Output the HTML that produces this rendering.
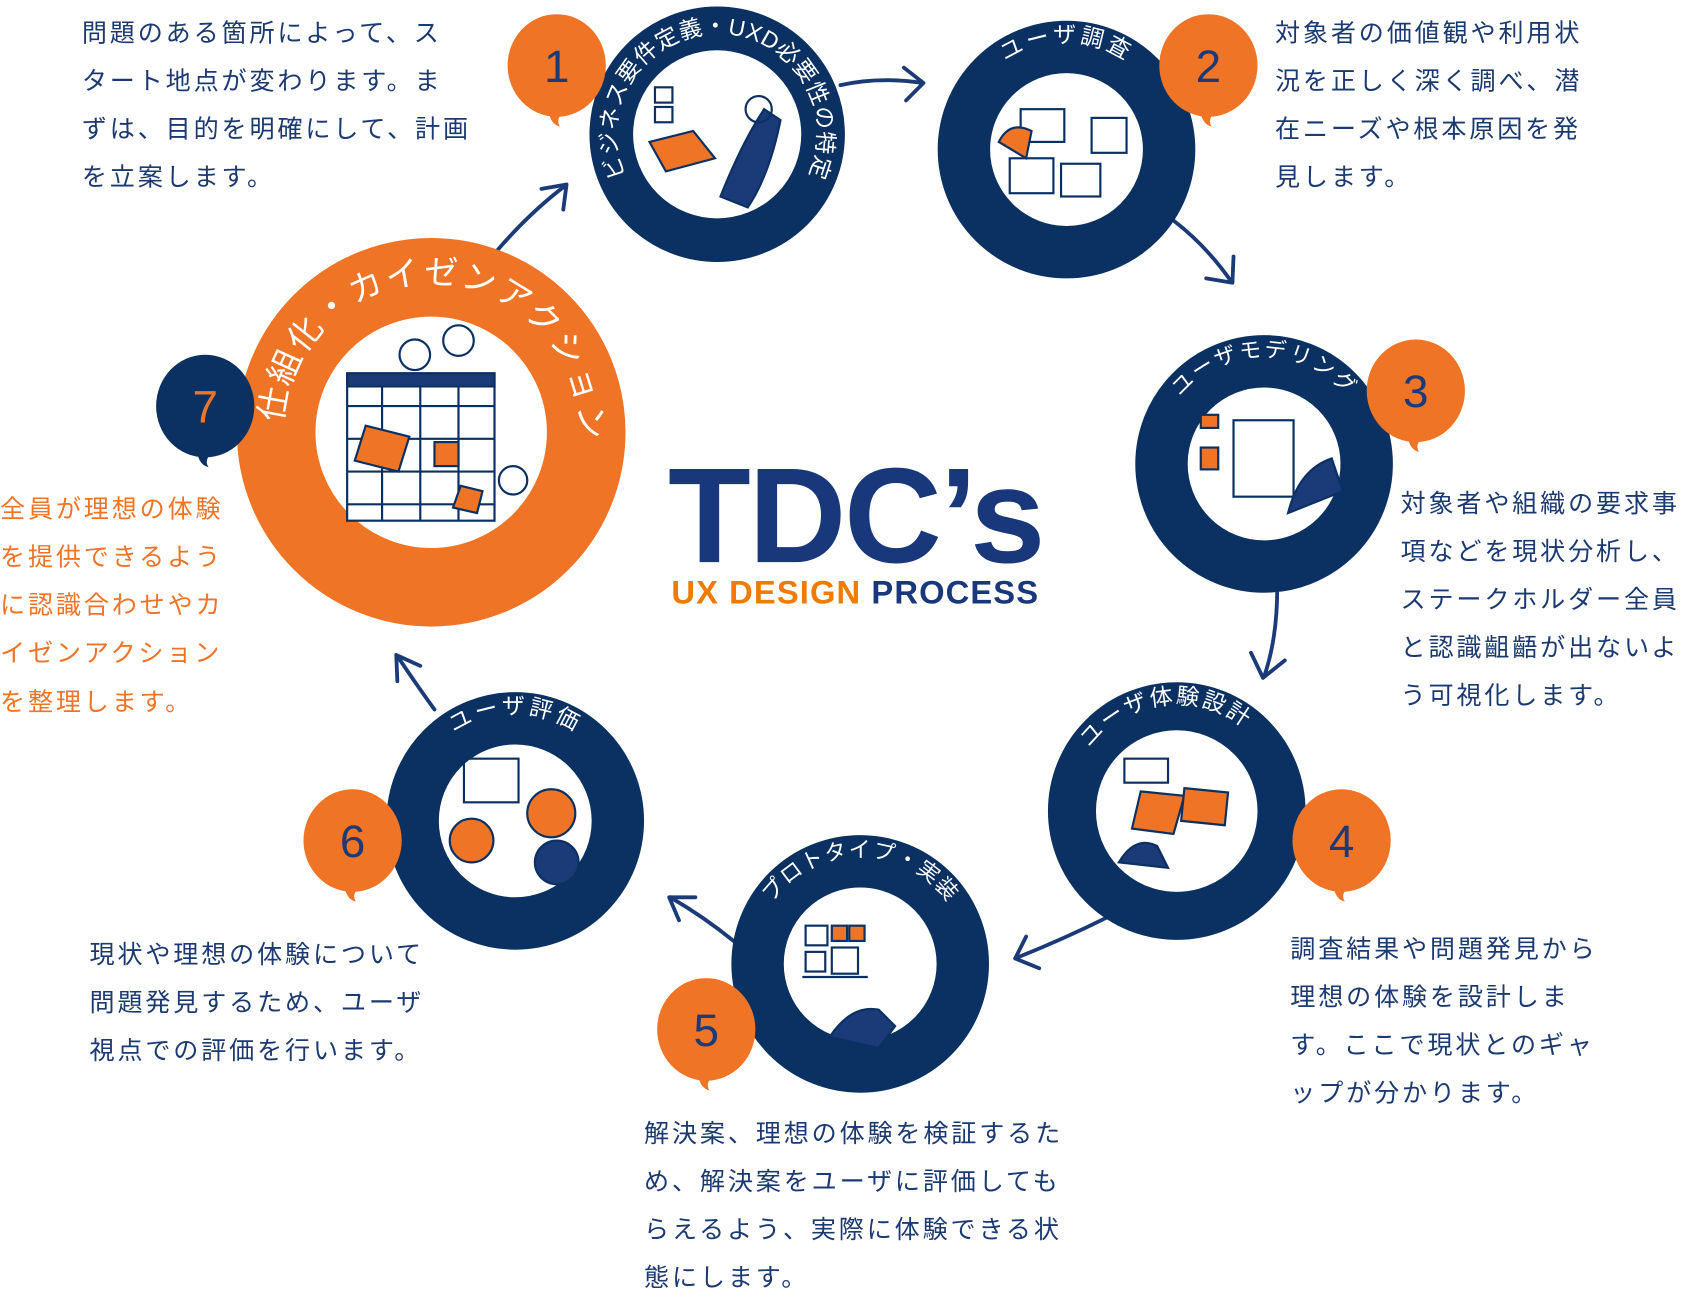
<!DOCTYPE html>
<html><head><meta charset="utf-8"><style>
html,body{margin:0;padding:0;background:#fff;}
svg{display:block;}
.t{font-family:"Liberation Sans","Noto Sans CJK JP",sans-serif;font-size:23px;letter-spacing:2.6px;fill:#1c3a72;}
.o{fill:#f07426;}
.r{font-family:"Liberation Sans","Noto Sans CJK JP",sans-serif;fill:#fff;}
.n{font-family:"Liberation Sans","Noto Sans CJK JP",sans-serif;font-size:42px;}
.ar{fill:none;stroke:#1b3a78;stroke-width:3.5;stroke-linecap:round;stroke-linejoin:round;}
.il{fill:none;stroke:#0b3163;stroke-width:2;}
</style></head><body>
<svg width="1692" height="1293" viewBox="0 0 1550 1184.5" xmlns="http://www.w3.org/2000/svg">
<defs>
<path id="p1" d="M657,215 A92,92 0 1 1 657,31 A92,92 0 1 1 657,215"/>
<path id="p2" d="M977,235 A98,98 0 1 1 977,39 A98,98 0 1 1 977,235"/>
<path id="p3" d="M1158,523 A98,98 0 1 1 1158,327 A98,98 0 1 1 1158,523"/>
<path id="p4" d="M1078,841 A98,98 0 1 1 1078,645 A98,98 0 1 1 1078,841"/>
<path id="p5" d="M788,981 A98,98 0 1 1 788,785 A98,98 0 1 1 788,981"/>
<path id="p6" d="M472,850 A98,98 0 1 1 472,654 A98,98 0 1 1 472,850"/>
<path id="p7" d="M395,532 A136,136 0 1 1 395,260 A136,136 0 1 1 395,532"/>
</defs>

<path class="ar" d="M770,78 Q805,70 845,76"/><path class="ar" d="M828,62 L846,76 L830,92"/>
<path class="ar" d="M1075,202 Q1105,225 1128,258"/><path class="ar" d="M1105,255 L1129,259 L1130,235"/>
<path class="ar" d="M1170,540 Q1170,585 1158,620"/><path class="ar" d="M1146,598 L1157,621 L1177,605"/>
<path class="ar" d="M1015,840 Q975,860 930,878"/><path class="ar" d="M940,858 L930,878 L952,887"/>
<path class="ar" d="M672,862 Q645,840 614,822"/><path class="ar" d="M637,822 L613,822 L622,843"/>
<path class="ar" d="M398,650 Q380,625 364,601"/><path class="ar" d="M364,624 L363,600 L385,610"/>
<path class="ar" d="M455,230 Q485,195 518,170"/><path class="ar" d="M496,173 L519,169 L516,192"/>

<circle cx="657" cy="123" r="97" fill="none" stroke="#0a3162" stroke-width="40"/>
<circle cx="977" cy="137" r="94" fill="none" stroke="#0a3162" stroke-width="48"/>
<circle cx="1158" cy="425" r="94" fill="none" stroke="#0a3162" stroke-width="48"/>
<circle cx="1078" cy="743" r="96" fill="none" stroke="#0a3162" stroke-width="44"/>
<circle cx="788" cy="883" r="94" fill="none" stroke="#0a3162" stroke-width="48"/>
<circle cx="472" cy="752" r="94" fill="none" stroke="#0a3162" stroke-width="48"/>
<circle cx="395" cy="396" r="142" fill="none" stroke="#f07426" stroke-width="72"/>

<text class="r" font-size="21" letter-spacing="0.5"><textPath href="#p1" startOffset="50%" text-anchor="middle">ビジネス要件定義・UXD必要性の特定</textPath></text>
<text class="r" font-size="21" letter-spacing="3"><textPath href="#p2" startOffset="50%" text-anchor="middle">ユーザ調査</textPath></text>
<text class="r" font-size="20" letter-spacing="2"><textPath href="#p3" startOffset="50%" text-anchor="middle">ユーザモデリング</textPath></text>
<text class="r" font-size="21" letter-spacing="2"><textPath href="#p4" startOffset="48%" text-anchor="middle">ユーザ体験設計</textPath></text>
<text class="r" font-size="20" letter-spacing="1"><textPath href="#p5" startOffset="50%" text-anchor="middle">プロトタイプ・実装</textPath></text>
<text class="r" font-size="21" letter-spacing="3"><textPath href="#p6" startOffset="50%" text-anchor="middle">ユーザ評価</textPath></text>
<text class="r" font-size="31" letter-spacing="2"><textPath href="#p7" startOffset="51%" text-anchor="middle">仕組化・カイゼンアクション</textPath></text>

<g class="il">
<rect x="600" y="80" width="16" height="14"/><rect x="600" y="98" width="16" height="14"/>
<path d="M595,130 l40,-10 l20,25 l-45,12z" fill="#f07426"/>
<path d="M660,180 q20,-50 40,-80 l15,10 q-10,50 -30,80z" fill="#1b3a78"/>
<circle cx="695" cy="100" r="12"/>
<rect x="935" y="100" width="40" height="30"/><rect x="1000" y="108" width="32" height="32"/><rect x="925" y="145" width="40" height="32"/><rect x="972" y="150" width="36" height="30"/>
<path d="M915,130 q10,-20 30,-10 l-5,25z" fill="#f07426"/>
<rect x="1130" y="385" width="55" height="70"/><rect x="1100" y="380" width="16" height="12" fill="#f07426"/><rect x="1100" y="410" width="16" height="20" fill="#f07426"/>
<path d="M1180,470 q10,-40 40,-50 l10,30 z" fill="#1b3a78"/>
<rect x="1030" y="695" width="40" height="22"/><path d="M1045,725 l40,4 l-10,35 l-38,-5z" fill="#f07426"/><path d="M1085,722 l40,4 l-3,30 l-40,-4z" fill="#f07426"/>
<path d="M1025,790 q15,-25 35,-15 l10,20z" fill="#1b3a78"/>
<rect x="738" y="848" width="20" height="18" fill="#fff"/><rect x="762" y="848" width="14" height="14" fill="#f07426"/><rect x="778" y="848" width="14" height="14" fill="#f07426"/>
<rect x="738" y="872" width="18" height="18"/><rect x="762" y="868" width="24" height="24"/><path d="M735,895 h60"/>
<path d="M760,950 q20,-30 45,-25 l15,15 l-15,20z" fill="#1b3a78"/>
<rect x="425" y="695" width="50" height="40"/><circle cx="432" cy="770" r="20" fill="#f07426"/><circle cx="505" cy="745" r="22" fill="#f07426"/><circle cx="510" cy="790" r="20" fill="#1b3a78"/>
<rect x="318" y="342" width="135" height="135" fill="#fff"/><path d="M318,372 h135 M318,402 h135 M318,432 h135 M318,462 h135 M350,342 v135 M385,342 v135 M420,342 v135"/>
<rect x="318" y="342" width="135" height="12" fill="#1b3a78"/>
<path d="M335,390 l40,10 l-10,32 l-40,-10z" fill="#f07426"/><rect x="398" y="405" width="22" height="22" fill="#f07426"/><path d="M422,445 l20,5 l-5,20 l-22,-5z" fill="#f07426"/>
<circle cx="380" cy="325" r="14"/><circle cx="420" cy="312" r="14" fill="#fff"/><circle cx="470" cy="440" r="13"/>
</g>

<g fill="#f07426">
<ellipse cx="510" cy="60" rx="45" ry="47"/><path d="M503,104 q2,10 10,12 q-4,-6 2,-12z"/>
<ellipse cx="1107" cy="60" rx="45" ry="47"/><path d="M1100,104 q2,10 10,12 q-4,-6 2,-12z"/>
<ellipse cx="1297" cy="358" rx="45" ry="47"/><path d="M1290,402 q2,10 10,12 q-4,-6 2,-12z"/>
<ellipse cx="1229" cy="770" rx="45" ry="47"/><path d="M1222,814 q2,10 10,12 q-4,-6 2,-12z"/>
<ellipse cx="647" cy="943" rx="45" ry="47"/><path d="M640,987 q2,10 10,12 q-4,-6 2,-12z"/>
<ellipse cx="323" cy="770" rx="45" ry="47"/><path d="M316,814 q2,10 10,12 q-4,-6 2,-12z"/>
</g>
<ellipse cx="188" cy="372" rx="45" ry="47" fill="#0a3162"/><path d="M181,416 q2,10 10,12 q-4,-6 2,-12z" fill="#0a3162"/>
<g class="n" text-anchor="middle" fill="#1b3a78">
<text x="510" y="75">1</text><text x="1107" y="75">2</text><text x="1297" y="373">3</text><text x="1229" y="785">4</text><text x="647" y="958">5</text><text x="323" y="785">6</text>
<text x="188" y="387" fill="#f07426">7</text>
</g>

<text x="612" y="515" font-family="Liberation Sans, sans-serif" font-weight="bold" font-size="124" fill="#19377b" letter-spacing="-2">TDC’s</text>
<text x="615" y="553" font-family="Liberation Sans, sans-serif" font-weight="bold" font-size="30" letter-spacing="1"><tspan fill="#ef7b00">UX DESIGN</tspan><tspan fill="#19377b"> PROCESS</tspan></text>

<g class="t">
<text x="75" y="38">問題のある箇所によって、ス</text><text x="75" y="82">タート地点が変わります。ま</text><text x="75" y="126">ずは、目的を明確にして、計画</text><text x="75" y="170">を立案します。</text>
<text x="1168" y="38">対象者の価値観や利用状</text><text x="1168" y="82">況を正しく深く調べ、潜</text><text x="1168" y="126">在ニーズや根本原因を発</text><text x="1168" y="170">見します。</text>
<text x="1283" y="469">対象者や組織の要求事</text><text x="1283" y="513">項などを現状分析し、</text><text x="1283" y="557">ステークホルダー全員</text><text x="1283" y="601">と認識齟齬が出ないよ</text><text x="1283" y="645">う可視化します。</text>
<text x="1182" y="877">調査結果や問題発見から</text><text x="1182" y="921">理想の体験を設計しま</text><text x="1182" y="965">す。ここで現状とのギャ</text><text x="1182" y="1009">ップが分かります。</text>
<text x="590" y="1046">解決案、理想の体験を検証するた</text><text x="590" y="1090">め、解決案をユーザに評価しても</text><text x="590" y="1134">らえるよう、実際に体験できる状</text><text x="590" y="1178">態にします。</text>
<text x="82" y="882">現状や理想の体験について</text><text x="82" y="926">問題発見するため、ユーザ</text><text x="82" y="970">視点での評価を行います。</text>
<g class="o"><text x="0" y="474">全員が理想の体験</text><text x="0" y="518">を提供できるよう</text><text x="0" y="562">に認識合わせやカ</text><text x="0" y="606">イゼンアクション</text><text x="0" y="651">を整理します。</text></g>
</g>
</svg>
</body></html>
